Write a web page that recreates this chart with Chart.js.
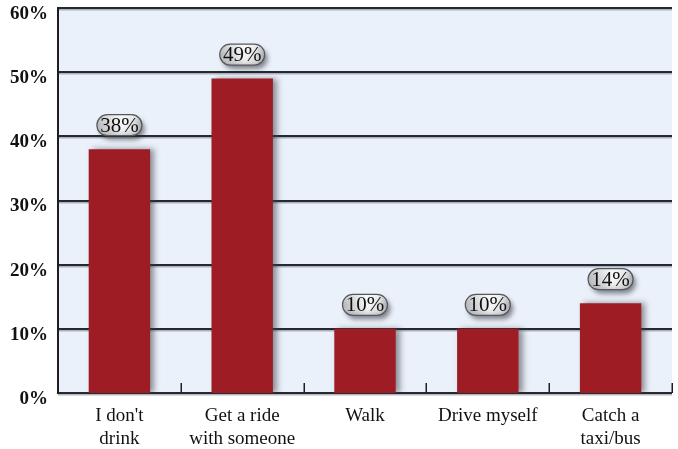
<!DOCTYPE html>
<html>
<head>
<meta charset="utf-8">
<style>
  html, body { margin: 0; padding: 0; background: #ffffff; }
  #wrap { width: 678px; height: 449px; }
</style>
<script src="https://cdn.jsdelivr.net/npm/chart.js@4/dist/chart.umd.min.js"></script>
</head>
<body>
<div id="wrap"><canvas id="c" width="678" height="449"></canvas></div>
<script>
const categories = [["I don't", "drink"], ["Get a ride", "with someone"], ["Walk"], ["Drive myself"], ["Catch a", "taxi/bus"]];
const shares = [38, 49, 10, 10, 14];
const yTicks = [0, 10, 20, 30, 40, 50, 60];

const SERIF = '"Liberation Serif", "DejaVu Serif", serif';

// Light blue plot background
const plotBackground = {
  id: 'plotBackground',
  beforeDraw(chart) {
    const { ctx, chartArea: a } = chart;
    ctx.save();
    ctx.fillStyle = '#ebf1fa';
    ctx.fillRect(a.left, a.top, a.right - a.left, a.bottom - a.top);
    ctx.restore();
  }
};

// Horizontal rules with a soft line underneath, left axis and inward ticks
const ruleLines = {
  id: 'ruleLines',
  beforeDatasetsDraw(chart) {
    const { ctx, chartArea: a, scales: { y } } = chart;
    ctx.save();
    yTicks.forEach(v => {
      const py = Math.round(y.getPixelForValue(v));
      ctx.fillStyle = 'rgba(120,125,135,0.55)';
      ctx.fillRect(a.left, py + 1, a.right - a.left, 1.5);
      ctx.fillStyle = '#262a30';
      ctx.fillRect(a.left, py - 1, a.right - a.left, 2);
    });
    ctx.fillStyle = '#1e1e1e';
    ctx.fillRect(a.left - 1, a.top - 1, 2, a.bottom - a.top + 2);
    const x = chart.scales.x;
    const n = categories.length;
    const step = x.getPixelForValue(1) - x.getPixelForValue(0);
    for (let i = 0; i < n; i++) {
      const px = Math.round(x.getPixelForValue(i) + step / 2);
      ctx.fillRect(px - 0.5, a.bottom - 10, 1.5, 10);
    }
    ctx.restore();
  }
};

// Drop shadow for the bars
const barShadow = {
  id: 'barShadow',
  beforeDatasetDraw(chart) {
    const ctx = chart.ctx;
    ctx.save();
    ctx.shadowColor = 'rgba(60,60,70,0.55)';
    ctx.shadowBlur = 6;
    ctx.shadowOffsetX = 4;
    ctx.shadowOffsetY = 0;
  },
  afterDatasetDraw(chart) {
    chart.ctx.restore();
  }
};

// Pill-shaped value labels above the bars
const valueBubbles = {
  id: 'valueBubbles',
  afterDatasetsDraw(chart) {
    const { ctx } = chart;
    const meta = chart.getDatasetMeta(0);
    ctx.save();
    ctx.font = '21px ' + SERIF;
    meta.data.forEach((bar, i) => {
      const text = shares[i] + '%';
      const w = 45, h = 21, r = 10.5;
      const cx = bar.x, cy = bar.y - 24;
      const x0 = cx - w / 2, y0 = cy - h / 2;
      ctx.save();
      ctx.shadowColor = 'rgba(40,40,50,0.55)';
      ctx.shadowBlur = 5;
      ctx.shadowOffsetX = 3;
      ctx.shadowOffsetY = 4;
      ctx.beginPath();
      ctx.roundRect(x0, y0, w, h, r);
      const g = ctx.createLinearGradient(x0, 0, x0 + w, 0);
      g.addColorStop(0, '#b4b6b9');
      g.addColorStop(0.55, '#f7f7f7');
      g.addColorStop(0.8, '#e2e3e5');
      g.addColorStop(1, '#a5a7ab');
      ctx.fillStyle = g;
      ctx.fill();
      ctx.restore();
      ctx.beginPath();
      ctx.roundRect(x0, y0, w, h, r);
      const gv = ctx.createLinearGradient(0, y0, 0, y0 + h);
      gv.addColorStop(0, 'rgba(255,255,255,0.35)');
      gv.addColorStop(0.5, 'rgba(255,255,255,0)');
      gv.addColorStop(1, 'rgba(90,90,95,0.25)');
      ctx.fillStyle = gv;
      ctx.fill();
      ctx.lineWidth = 1.2;
      ctx.strokeStyle = '#55585c';
      ctx.stroke();
      ctx.fillStyle = '#111111';
      ctx.textAlign = 'center';
      ctx.textBaseline = 'middle';
      ctx.fillText(text, cx, cy + 1);
    });
    ctx.restore();
  }
};

new Chart(document.getElementById('c'), {
  type: 'bar',
  data: {
    labels: categories,
    datasets: [{
      data: shares,
      backgroundColor: '#9e1c23',
      borderWidth: 0,
      categoryPercentage: 1.0,
      barPercentage: 0.5
    }]
  },
  options: {
    responsive: false,
    animation: false,
    devicePixelRatio: 1,
    layout: { padding: { top: 8, right: 6, left: 0, bottom: 0 } },
    plugins: {
      legend: { display: false },
      tooltip: { enabled: false }
    },
    scales: {
      x: {
        offset: true,
        grid: { display: false, offset: true, drawTicks: false },
        border: { display: false },
        ticks: {
          color: '#111111',
          font: { family: SERIF, size: 19, lineHeight: 1.2 },
          padding: 12,
          maxRotation: 0,
          autoSkip: false
        },
        afterFit(scale) {
          scale.height = 56;
          scale.paddingLeft = 0;
          scale.paddingRight = 0;
        }
      },
      y: {
        min: 0,
        max: 60,
        afterBuildTicks(scale) { scale.ticks = yTicks.map(v => ({ value: v })); },
        grid: { display: false, drawTicks: false },
        border: { display: false },
        ticks: {
          color: '#111111',
          font: { family: SERIF, size: 19, weight: 'bold' },
          padding: 10,
          labelOffset: 6,
          callback: v => v + '%'
        },
        afterFit(scale) {
          scale.width = 58;
          scale.paddingTop = 0;
          scale.paddingBottom = 0;
        }
      }
    }
  },
  plugins: [plotBackground, ruleLines, barShadow, valueBubbles]
});
</script>
</body>
</html>
